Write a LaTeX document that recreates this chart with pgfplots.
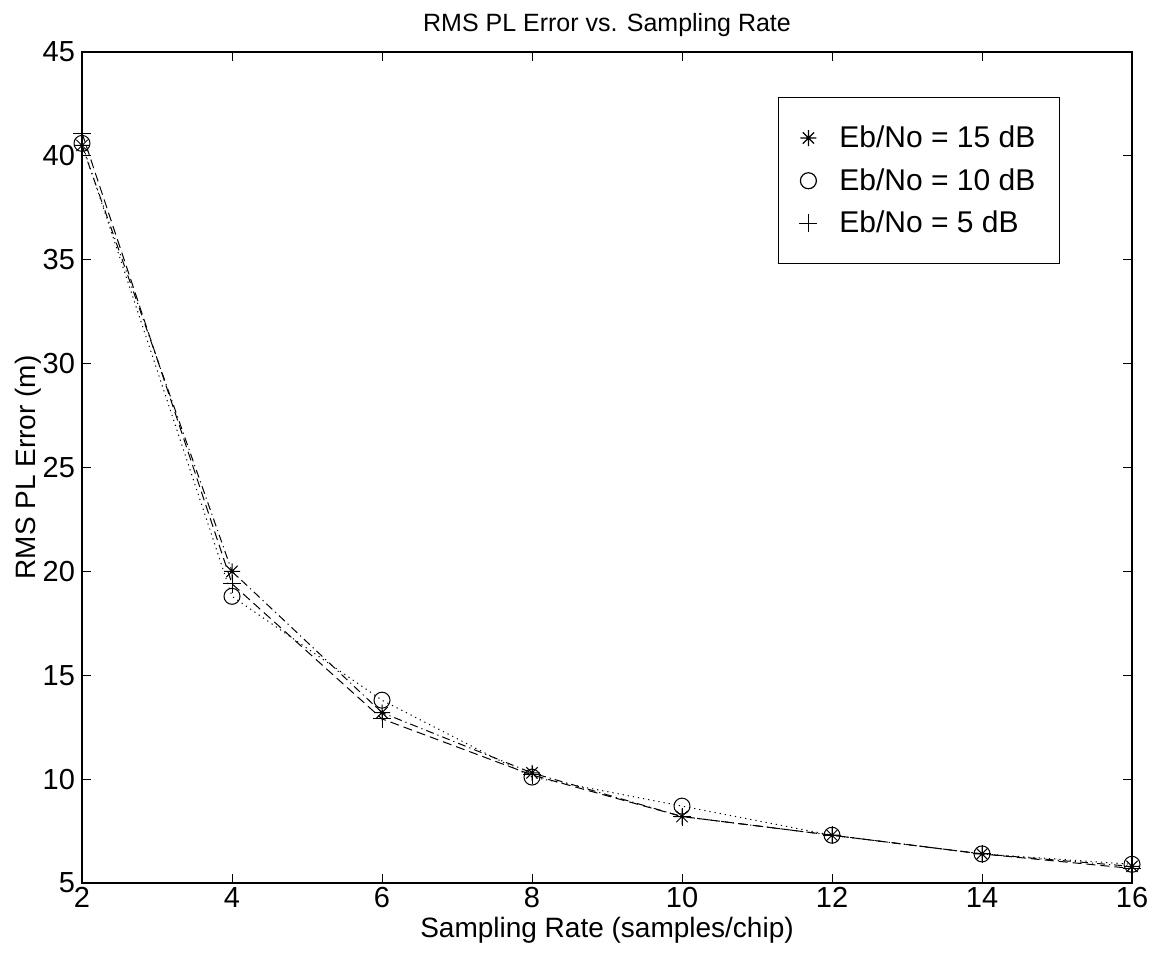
\documentclass[border=0pt]{standalone}
\usepackage{pgfplots}
\pgfplotsset{compat=1.18}
\usepackage{fontspec}
\setmainfont{Liberation Sans}
\pgfdeclareplotmark{mstar}{%
  \pgfpathmoveto{\pgfqpoint{0pt}{\pgfplotmarksize}}\pgfpathlineto{\pgfqpoint{0pt}{-\pgfplotmarksize}}%
  \pgfpathmoveto{\pgfqpoint{\pgfplotmarksize}{0pt}}\pgfpathlineto{\pgfqpoint{-\pgfplotmarksize}{0pt}}%
  \pgfpathmoveto{\pgfqpoint{0.707\pgfplotmarksize}{0.707\pgfplotmarksize}}\pgfpathlineto{\pgfqpoint{-0.707\pgfplotmarksize}{-0.707\pgfplotmarksize}}%
  \pgfpathmoveto{\pgfqpoint{-0.707\pgfplotmarksize}{0.707\pgfplotmarksize}}\pgfpathlineto{\pgfqpoint{0.707\pgfplotmarksize}{-0.707\pgfplotmarksize}}%
  \pgfusepathqstroke}
\begin{document}
\begin{tikzpicture}
\begin{axis}[
  name=ax,
  scale only axis,
  width=525pt, height=415.5pt,
  xmin=2, xmax=16, ymin=5, ymax=45,
  xtick={2,4,...,16}, ytick={5,10,...,45},
  tick align=inside,
  major tick length=4.5pt,
  axis line style={line width=0.7pt},
  every tick/.style={black, line width=0.5pt},
  /pgf/number format/assume math mode=true,
  tick label style={font=\fontsize{14.5}{16}\selectfont},
  xticklabel style={yshift=1.5pt},
  label style={font=\fontsize{14}{16}\selectfont},
  title style={font=\fontsize{12.5}{14}\selectfont, yshift=-2pt},
  title={RMS PL Error vs. Sampling Rate},
  xlabel={Sampling Rate (samples/chip)},
  ylabel={RMS PL Error (m)},
  xlabel style={yshift=2pt},
  ylabel style={yshift=-6pt},
  legend style={
    at={(0.9314,0.9458)}, anchor=north east,
    draw=black, line width=0.6pt,
    font=\fontsize{15}{17}\selectfont,
    inner xsep=10pt, inner ysep=12pt,
    row sep=5pt,
    legend cell align=left,
  },
  legend image code/.code={\path[draw=none] (-4pt,0pt) -- (14.5pt,0pt); \draw[#1] plot coordinates {(1pt,0pt)};},
]
\addplot[black, line width=0.5pt, dash pattern=on 4pt off 2pt on 0.6pt off 2pt, mark=mstar, mark size=4pt, mark options={solid}, forget plot]
 coordinates {(2,40.5) (4,20.0) (6,13.2) (8,10.3) (10,8.2) (12,7.3) (14,6.4) (16,5.8)};
\addplot[black, line width=0.5pt, dash pattern=on 0.6pt off 2pt, mark=o, mark size=4pt, mark options={solid}, forget plot]
 coordinates {(2,40.6) (4,18.8) (6,13.8) (8,10.1) (10,8.7) (12,7.3) (14,6.4) (16,5.9)};
\addplot[black, line width=0.5pt, dash pattern=on 4.5pt off 2.5pt, mark=+, mark size=4.5pt, mark options={solid}, forget plot]
 coordinates {(2,41.1) (4,19.4) (6,12.9) (8,10.2) (10,8.2) (12,7.3) (14,6.4) (16,5.7)};
\addlegendimage{black, only marks, mark=mstar, mark size=4pt}
\addlegendentry{Eb/No = 15 dB}
\addlegendimage{black, only marks, mark=o, mark size=4pt}
\addlegendentry{Eb/No = 10 dB}
\addlegendimage{black, only marks, mark=+, mark size=4.5pt}
\addlegendentry{Eb/No = 5 dB}
\end{axis}
\useasboundingbox ([xshift=-41pt,yshift=-37.5pt]ax.south west) rectangle ([xshift=14pt,yshift=26pt]ax.north east);
\end{tikzpicture}
\end{document}
